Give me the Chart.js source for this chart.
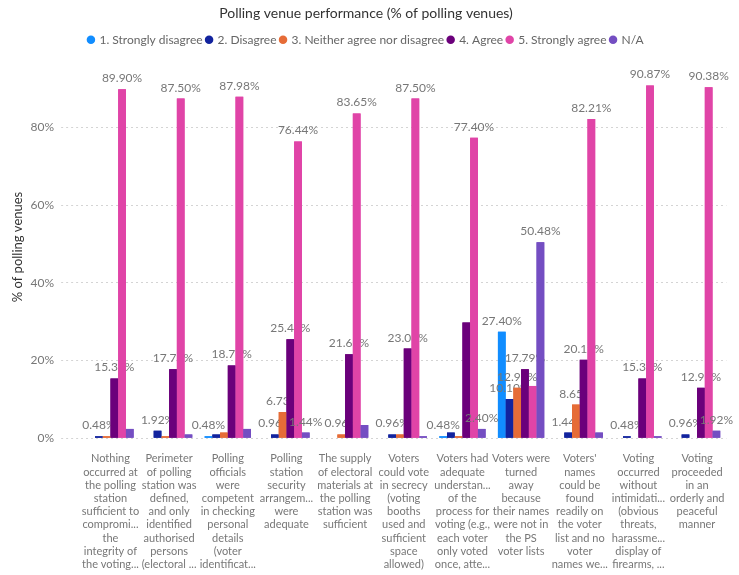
<!DOCTYPE html>
<html>
<head>
<meta charset="utf-8">
<script src="https://cdn.jsdelivr.net/npm/chart.js@4.4.1/dist/chart.umd.min.js"></script>
<style>
  html, body { margin: 0; padding: 0; background: #fff; }
  #wrap { width: 739px; height: 575px; }
</style>
</head>
<body>
<div id="wrap"><canvas id="barChart"></canvas></div>
<script>
const categories = [
  ["Nothing", "occurred at", "the polling", "station", "sufficient to", "compromi...", "the", "integrity of", "the voting..."],
  ["Perimeter", "of polling", "station was", "defined,", "and only", "identified", "authorised", "persons", "(electoral ..."],
  ["Polling", "officials", "were", "competent", "in checking", "personal", "details", "(voter", "identificat..."],
  ["Polling", "station", "security", "arrangem...", "were", "adequate"],
  ["The supply", "of electoral", "materials at", "the polling", "station was", "sufficient"],
  ["Voters", "could vote", "in secrecy", "(voting", "booths", "used and", "sufficient", "space", "allowed)"],
  ["Voters had", "adequate", "understan...", "of the", "process for", "voting (e.g.,", "each voter", "only voted", "once, atte..."],
  ["Voters were", "turned", "away", "because", "their names", "were not in", "the PS", "voter lists"],
  ["Voters'", "names", "could be", "found", "readily on", "the voter", "list and no", "voter", "names we..."],
  ["Voting", "occurred", "without", "intimidati...", "(obvious", "threats,", "harassme...", "display of", "firearms, ..."],
  ["Voting", "proceeded", "in an", "orderly and", "peaceful", "manner"]
];

const stronglyDisagree = [0, 0, 0.48, 0, 0, 0, 0.48, 27.40, 0, 0, 0];
const disagree = [0.48, 1.92, 0.96, 0.96, 0, 0.96, 1.44, 10.10, 1.44, 0.48, 0.96];
const neither = [0.48, 0.48, 1.44, 6.73, 0.96, 0.96, 0.48, 12.98, 8.65, 0, 0];
const agree = [15.38, 17.79, 18.75, 25.48, 21.63, 23.08, 29.81, 17.79, 20.19, 15.38, 12.98];
const stronglyAgree = [89.90, 87.50, 87.98, 76.44, 83.65, 87.50, 77.40, 13.46, 82.21, 90.87, 90.38];
const notApplicable = [2.40, 0.96, 2.40, 1.44, 3.37, 0.48, 2.40, 50.48, 1.44, 0.48, 1.92];

const yTicks = [0, 20, 40, 60, 80];

// labels the report leaves out ("series:category")
const hiddenLabels = ["2:0", "5:0", "2:1", "5:1", "1:2", "2:2", "5:2", "5:4", "2:5", "5:5", "1:6", "2:6", "3:6", "4:7", "5:8", "5:9"];

const fontFamily = '"Segoe UI", Lato, sans-serif';
Chart.defaults.font.family = fontFamily;
Chart.defaults.color = "#777";

const ctx = document.getElementById("barChart").getContext("2d");

// bars of each series drawn in order, labels of a series go under the next series' bars
const barLabels = {
  id: "barLabels",
  afterDatasetsDraw(chart) {
    const c = chart.ctx;
    c.save();
    c.font = "12px " + fontFamily;
    c.fillStyle = "#777";
    c.textAlign = "center";
    c.textBaseline = "alphabetic";
    chart.data.datasets.forEach((ds, i) => {
      const meta = chart.getDatasetMeta(i);
      meta.data.forEach(bar => bar.draw(c));
      meta.data.forEach((bar, j) => {
        const v = ds.data[j];
        if (!v || hiddenLabels.includes(i + ":" + j)) return;
        c.fillText(v.toFixed(2) + "%", bar.x, bar.y - 7);
      });
    });
    c.restore();
  }
};

const data = {
  labels: categories,
  datasets: [
    { label: "1. Strongly disagree", data: stronglyDisagree, backgroundColor: "#118DFF" },
    { label: "2. Disagree", data: disagree, backgroundColor: "#12239E" },
    { label: "3. Neither agree nor disagree", data: neither, backgroundColor: "#E66C37" },
    { label: "4. Agree", data: agree, backgroundColor: "#6B007B" },
    { label: "5. Strongly agree", data: stronglyAgree, backgroundColor: "#E044A7" },
    { label: "N/A", data: notApplicable, backgroundColor: "#744EC2" }
  ]
};

const options = {
  responsive: true,
  maintainAspectRatio: false,
  animation: false,
  layout: { padding: { left: 4, right: 11, top: 0, bottom: 4 } },
  datasets: { bar: { categoryPercentage: 0.79, barPercentage: 1.0 } },
  plugins: {
    tooltip: { enabled: false },
    title: {
      display: true,
      text: "Polling venue performance (% of polling venues)",
      color: "#333",
      font: { size: 14, weight: "normal" },
      padding: { top: 5, bottom: 8 }
    },
    legend: {
      display: true,
      position: "top",
      labels: {
        usePointStyle: true,
        pointStyle: "circle",
        boxWidth: 5,
        boxHeight: 6,
        color: "#666",
        font: { size: 12 },
        padding: 4
      }
    }
  },
  scales: {
    x: {
      grid: { display: false, drawTicks: false },
      border: { display: false },
      afterFit: scale => { scale.height -= 14; },
      ticks: {
        color: "#777",
        font: { size: 11, lineHeight: 1.2 },
        padding: 14,
        maxRotation: 0,
        autoSkip: false
      }
    },
    y: {
      min: 0,
      max: 98.5,
      afterBuildTicks: scale => {
        scale.ticks = yTicks.map(v => ({ value: v }));
      },
      ticks: {
        callback: v => v + "%",
        color: "#777",
        font: { size: 12 },
        padding: 7
      },
      grid: {
        color: "#d4d4d4",
        tickColor: "#d4d4d4",
        tickLength: 20,
        tickBorderDash: [2, 3]
      },
      border: { display: false, dash: [2, 3] },
      title: {
        display: true,
        text: "% of polling venues",
        color: "#333",
        font: { size: 13 },
        padding: { top: 6, bottom: -2 }
      }
    }
  }
};

new Chart(ctx, {
  type: "bar",
  data: data,
  options: options,
  plugins: [barLabels]
});
</script>
</body>
</html>
